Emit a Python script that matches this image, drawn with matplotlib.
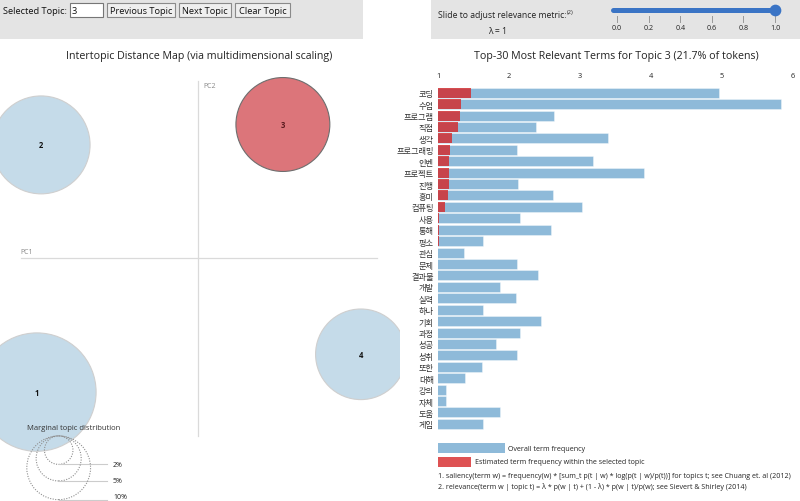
import matplotlib
matplotlib.use('Agg')
import matplotlib.pyplot as plt
from matplotlib.patches import Circle, Rectangle
import numpy as np

plt.rcParams['font.family'] = ['Open Sans', 'Noto Sans CJK KR', 'DejaVu Sans']

# ---------------- data ----------------
terms = ['코딩', '수업', '프로그램', '직접', '생각', '프로그래밍', '인벤', '프로젝트', '진행', '흥미',
         '컴퓨팅', '사용', '통해', '평소', '관심', '문제', '결과물', '개발', '실력', '하나',
         '기회', '과정', '성공', '성취', '또한', '대해', '강의', '자체', '도움', '게임']
overall_freq = [4.96, 5.83, 2.63, 2.38, 3.40, 2.11, 3.18, 3.90, 2.13, 2.62,
                3.03, 2.15, 2.59, 1.63, 1.37, 2.11, 2.41, 1.87, 2.10, 1.63,
                2.45, 2.15, 1.82, 2.11, 1.62, 1.38, 1.11, 1.11, 1.87, 1.63]
topic_freq = [1.46, 1.33, 1.31, 1.28, 1.20, 1.17, 1.15, 1.15, 1.15, 1.14,
              1.10, 1.02, 1.02, 1.01, 0.0, 0.0, 0.0, 0.0, 0.0, 0.0,
              0.0, 0.0, 0.0, 0.0, 0.0, 0.0, 0.0, 0.0, 0.0, 0.0]
freq_ticks = [1, 2, 3, 4, 5, 6]

topic_ids = [1, 2, 3, 4]
topic_pc1 = [-0.269, -0.262, 0.141, 0.271]
topic_pc2 = [-0.223, 0.189, 0.223, -0.160]
topic_share = [0.345, 0.236, 0.217, 0.202]
selected_topic = 3

marginal_levels = [0.02, 0.05, 0.10]
marginal_labels = ['2%', '5%', '10%']

lambda_ticks = [0.0, 0.2, 0.4, 0.6, 0.8, 1.0]
lambda_value = 1.0

# ---------------- figure ----------------
W, H = 800, 502
fig = plt.figure(figsize=(8, 5.02), dpi=100)
fig.patch.set_facecolor('white')
renderer = fig.canvas.get_renderer()


def fit(t, width):
    w = t.get_window_extent(renderer).width
    t.set_fontsize(t.get_fontsize() * width / w)
    return t


ov = fig.add_axes([0, 0, 1, 1])
ov.set_xlim(0, W)
ov.set_ylim(H, 0)
ov.axis('off')

# top control panels
ov.add_patch(Rectangle((0, 0), 363, 40, fc='#e4e4e4', ec='none'))
ov.add_patch(Rectangle((431, 0), 369, 40, fc='#e4e4e4', ec='none'))

t = ov.text(3, 11, 'Selected Topic:', fontsize=6.5, va='center', ha='left', color='#111')
fit(t, 64)
ov.add_patch(Rectangle((70, 4), 33, 14, fc='white', ec='#767676', lw=0.8))
ov.text(72, 11, str(selected_topic), fontsize=t.get_fontsize(), va='center', ha='left', color='#111')
for (x0, w, lab) in [(107, 68, 'Previous Topic'), (179, 52, 'Next Topic'), (235, 55, 'Clear Topic')]:
    ov.add_patch(Rectangle((x0, 4), w, 14, fc='#efefef', ec='#8a8a8a', lw=0.8))
    ov.text(x0 + w / 2, 11, lab, fontsize=t.get_fontsize(), va='center', ha='center', color='#111')

t2 = ov.text(438, 15, 'Slide to adjust relevance metric:', fontsize=6.5, va='center', ha='left', color='#222')
fit(t2, 128)
ov.annotate('(2)', xy=(1, 0.75), xycoords=t2, fontsize=t2.get_fontsize() * 0.65,
            va='center', ha='left', color='#222')
ov.text(498, 31.5, 'λ = %g' % lambda_value, fontsize=t2.get_fontsize(), va='center', ha='center', color='#222')

# slider
sl = fig.add_axes([617 / W, 1 - 35 / H, (775 - 617) / W, 30 / H])
sl.set_xlim(0, 1)
sl.set_ylim(35, 5)
sl.axis('off')
sl.plot([-0.025, lambda_value], [10.7, 10.7], color='#3a74c5', lw=3.6, solid_capstyle='round', clip_on=False)
sl.scatter([lambda_value], [10.7], s=55, color='#3a74c5', zorder=3, clip_on=False)
for v in lambda_ticks:
    sl.plot([v, v], [16.7, 22.7], color='#999', lw=0.7, clip_on=False)
    sl.text(v, 28.5, '%.1f' % v, fontsize=5.2, ha='center', va='center', color='#222', clip_on=False)

# titles
tt = ov.text(199, 57, 'Intertopic Distance Map (via multidimensional scaling)', fontsize=8.5,
             ha='center', va='center', color='#222')
fit(tt, 265)
tb = ov.text(616.5, 57, 'Top-30 Most Relevant Terms for Topic %d (21.7%% of tokens)' % selected_topic,
             fontsize=8.5, ha='center', va='center', color='#222')
fit(tb, 283)

# ---------------- intertopic map ----------------
mp = fig.add_axes([0, 0, 0.5, 462 / H])
mp.set_xlim(-0.3305, 0.3362)
mp.set_ylim(-0.4045, 0.3655)
mp.axis('off')
mp.patch.set_alpha(0)

k = 0.168  # radius scale (data units per sqrt(share))
mp.plot([0, 0], [-0.296, 0.296], color='#dadada', lw=0.9, zorder=1)
mp.plot([-0.296, 0.2973], [0, 0], color='#dadada', lw=0.9, zorder=1)
mp.text(-0.296, 0.006, 'PC1', fontsize=5, color='#888', ha='left', va='bottom')
mp.text(0.008, 0.294, 'PC2', fontsize=5, color='#888', ha='left', va='top')

for tid, x, y, s in zip(topic_ids, topic_pc1, topic_pc2, topic_share):
    r = k * np.sqrt(s)
    if tid == selected_topic:
        mp.add_patch(Circle((x, y), r, fc='#dc757a', ec='#6e6e6e', lw=0.8, zorder=2))
        col = '#5a1a1e'
    else:
        mp.add_patch(Circle((x, y), r, fc='#c5dbe9', ec='#cfcfcf', lw=0.8, zorder=2))
        col = '#111'
    mp.text(x, y, str(tid), fontsize=5.5, fontweight='bold', ha='center', va='center', color=col, zorder=3)

# marginal topic distribution legend
mtop = -0.296
mcx = -0.2327
mp.text(-0.2855, -0.2812, 'Marginal topic distribution', fontsize=5.5, ha='left', va='center',
        color='#333', zorder=4)
for lev, lab in zip(marginal_levels, marginal_labels):
    r = k * np.sqrt(lev)
    cy = mtop - r
    mp.add_patch(Circle((mcx, cy), r, fill=False, ec='#8f8f8f', lw=0.8, ls=(0, (1, 1.3)), zorder=4))
    mp.plot([mcx, -0.1528], [cy - r, cy - r], color='#cccccc', lw=0.8, zorder=4)
    dy = 2.5 if lev == max(marginal_levels) else 0
    mp.annotate(lab, (-0.1422, cy - r), xytext=(0, dy), textcoords='offset points',
                fontsize=5, ha='left', va='center', color='#222', zorder=4)

# ---------------- bar chart ----------------
top_px, bot_px = 88.0, 430.6
bx = fig.add_axes([438 / W, 1 - bot_px / H, 355 / W, (bot_px - top_px) / H])
ypos = np.arange(len(terms))
bx.barh(ypos, overall_freq, height=0.875, color='#1f77b4', alpha=0.5, edgecolor='white', lw=0.5)
bx.barh(ypos, topic_freq, height=0.875, color='#d62728', alpha=0.8, edgecolor='none')
bx.set_xlim(freq_ticks[0], freq_ticks[-1])
bx.set_ylim(len(terms) - 0.5, -0.5)
for s in bx.spines.values():
    s.set_visible(False)
bx.xaxis.tick_top()
bx.set_xticks(freq_ticks)
bx.set_xticklabels([str(v) for v in freq_ticks])
bx.tick_params(axis='x', length=0, pad=6, labelsize=5.3, labelcolor='#222')
bx.set_yticks(ypos)
bx.set_yticklabels(terms, family=['Noto Sans CJK KR', 'DejaVu Sans'])
bx.tick_params(axis='y', length=0, pad=3, labelsize=5.9, labelcolor='#333')
bx.patch.set_alpha(0)

# bar legend
ov.add_patch(Rectangle((438, 444.3), 67, 10, fc='#1f77b4', alpha=0.5, ec='none'))
ov.add_patch(Rectangle((438, 457.7), 33, 10, fc='#d62728', alpha=0.8, ec='none'))
l1 = ov.text(508, 449.3, 'Overall term frequency', fontsize=5, ha='left', va='center', color='#222')
fit(l1, 77)
l2 = ov.text(475, 462.7, 'Estimated term frequency within the selected topic', fontsize=5,
             ha='left', va='center', color='#222')
fit(l2, 172)
f1 = ov.text(438, 476.7, '1. saliency(term w) = frequency(w) * [sum_t p(t | w) * log(p(t | w)/p(t))] for topics t; see Chuang et. al (2012)',
             fontsize=5, ha='left', va='center', color='#222')
fit(f1, 360)
f2 = ov.text(438, 487.3, '2. relevance(term w | topic t) = λ * p(w | t) + (1 - λ) * p(w | t)/p(w); see Sievert & Shirley (2014)',
             fontsize=f1.get_fontsize(), ha='left', va='center', color='#222')

fig.savefig('out.png', dpi=100)
